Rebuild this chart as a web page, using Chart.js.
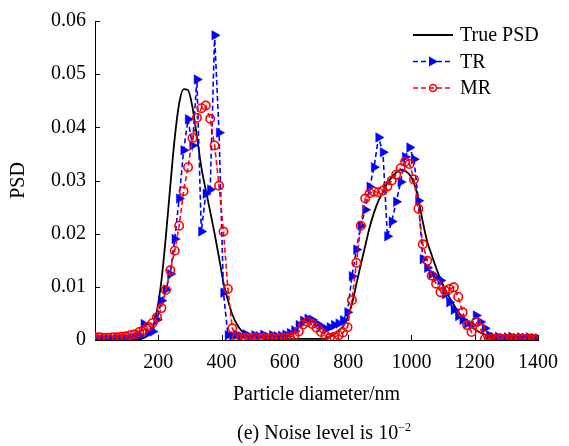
<!DOCTYPE html>
<html>
<head>
<meta charset="utf-8">
<script src="https://cdn.jsdelivr.net/npm/chart.js@4.4.1/dist/chart.umd.min.js"></script>
<style>
    html, body { margin: 0; padding: 0; background: #fff; }
    #wrap { position: relative; width: 569px; height: 446px; }
    #caption {
        position: absolute; left: 79px; width: 490px; top: 421px;
        text-align: center; font: 20px "Liberation Serif", serif; color: #000;
    }
    #caption sup { font-size: 12px; vertical-align: 8px; line-height: 0; }
</style>
</head>
<body>
<div id="wrap">
    <canvas id="psdChart" width="569" height="446"></canvas>
    <div id="caption">(e) Noise level is 10<sup>&minus;2</sup></div>
</div>
<script>
// particle diameters (nm)
const diameters = [
    0, 14, 28, 42, 56, 70, 84, 98, 112, 126,
    140, 154, 168, 182, 196, 210, 224, 238, 252, 266,
    280, 294, 308, 322, 336, 350, 364, 378, 392, 406,
    420, 434, 448, 462, 476, 490, 504, 518, 532, 546,
    560, 574, 588, 602, 616, 630, 644, 658, 672, 686,
    700, 714, 728, 742, 756, 770, 784, 798, 812, 826,
    840, 854, 868, 882, 896, 910, 924, 938, 952, 966,
    980, 994, 1008, 1022, 1036, 1050, 1064, 1078, 1092, 1106,
    1120, 1134, 1148, 1162, 1176, 1190, 1204, 1218, 1232, 1246,
    1260, 1274, 1288, 1302, 1316, 1330, 1344, 1358, 1372, 1386,
    1400
];

const truePSD = [
    0, 0, 0, 0, 0, 0, 0, 0, 0, 0.00005,
    0.0001, 0.0004, 0.0009, 0.0022, 0.0055, 0.0112, 0.0195, 0.029, 0.038, 0.0445,
    0.0472, 0.047, 0.0438, 0.0383, 0.0325, 0.0282, 0.0242, 0.02, 0.0155, 0.0108,
    0.0075, 0.0048, 0.003, 0.0018, 0.0011, 0.0007, 0.0005, 0.0004, 0.0003, 0.0002,
    0.0002, 0.0002, 0.0002, 0.0002, 0.0002, 0.0002, 0.0002, 0.0002, 0.0002, 0.0002,
    0.0002, 0.0002, 0.0003, 0.0006, 0.0011, 0.0018, 0.0026, 0.0042, 0.0068, 0.0105,
    0.0142, 0.0177, 0.0212, 0.024, 0.0262, 0.0278, 0.0295, 0.0306, 0.0315, 0.032,
    0.0318, 0.0311, 0.0295, 0.0265, 0.0222, 0.0185, 0.016, 0.0136, 0.0114, 0.0096,
    0.008, 0.0066, 0.0053, 0.0042, 0.0033, 0.0025, 0.0019, 0.0014, 0.001, 0.0007,
    0.0005, 0.0003, 0.0002, 0.0001, 0.0001, 0, 0, 0, 0, 0,
    0
];

const trPSD = [
    0.0002, 0.0001, 0.0002, 0.0002, 0.0001, 0.0002, 0.0003, 0.0002, 0.0003, 0.0004,
    0.0008, 0.003, 0.0013, 0.0016, 0.0038, 0.0074, 0.0095, 0.0124, 0.019, 0.0266,
    0.0357, 0.0415, 0.0366, 0.049, 0.0204, 0.0275, 0.0283, 0.0573, 0.039, 0.0089,
    0.0009, 0.0008, 0.001, 0.0007, 0.0011, 0.0006, 0.0009, 0.0007, 0.001, 0.0006,
    0.0009, 0.0007, 0.0008, 0.001, 0.0013, 0.0018, 0.0028, 0.0036, 0.004, 0.0038,
    0.0031, 0.0026, 0.0021, 0.0024, 0.0028, 0.0031, 0.0037, 0.0052, 0.012, 0.017,
    0.0215, 0.0245, 0.0288, 0.0325, 0.0381, 0.0353, 0.0195, 0.0223, 0.026, 0.0297,
    0.0344, 0.0362, 0.034, 0.0262, 0.0152, 0.0136, 0.0124, 0.0118, 0.0112, 0.0086,
    0.0071, 0.0057, 0.0045, 0.0038, 0.0031, 0.0028, 0.0046, 0.0034, 0.0022, 0.0009,
    0.0005, 0.0006, 0.0004, 0.0005, 0.0006, 0.0004, 0.0005, 0.0004, 0.0005, 0.0004,
    0.0003
];

const mrPSD = [
    0.0005, 0.0005, 0.0004, 0.0004, 0.0005, 0.0005, 0.0006, 0.0007, 0.0009, 0.0011,
    0.0015, 0.0019, 0.0025, 0.0032, 0.0043, 0.006, 0.0094, 0.0131, 0.0168, 0.0215,
    0.028, 0.0325, 0.038, 0.0418, 0.0436, 0.0441, 0.0416, 0.0366, 0.029, 0.0204,
    0.0096, 0.0022, 0.0005, 0.0004, 0.0004, 0.0003, 0.0004, 0.0003, 0.0004, 0.0003,
    0.0004, 0.0003, 0.0004, 0.0004, 0.0005, 0.0008, 0.0016, 0.0029, 0.0034, 0.003,
    0.0023, 0.0015, 0.0008, 0.0004, 0.0006, 0.0009, 0.0014, 0.0024, 0.0075, 0.0145,
    0.0215, 0.0266, 0.0276, 0.0279, 0.0278, 0.0281, 0.0289, 0.03, 0.0311, 0.0323,
    0.0335, 0.0331, 0.0302, 0.0247, 0.018, 0.0149, 0.0121, 0.0106, 0.009, 0.0093,
    0.0096, 0.0099, 0.0081, 0.0052, 0.0028, 0.0015, 0.0034, 0.0022, 0.0002, 0.0002,
    0.0002, 0.0002, 0.0002, 0.0002, 0.0002, 0.0002, 0.0002, 0.0002, 0.0002, 0.0002,
    0.0002
];

const seriesLabels = ['True PSD', 'TR', 'MR'];
const xTicks = [200, 400, 600, 800, 1000, 1200, 1400];
const yTicks = [0, 0.01, 0.02, 0.03, 0.04, 0.05, 0.06];

const serif = '"Liberation Serif", "Times New Roman", serif';

function toPoints(values)
{
    return diameters.map(function (d, i) { return { x: d, y: values[i] }; });
}

// inward tick marks on left and bottom axes
const innerTicks = {
    id: 'innerTicks',
    afterDraw: function (chart) {
        const ctx = chart.ctx;
        const area = chart.chartArea;
        const xs = chart.scales.x;
        const ys = chart.scales.y;
        ctx.save();
        ctx.strokeStyle = '#000';
        ctx.lineWidth = 1;
        ctx.beginPath();
        xTicks.forEach(function (v) {
            const px = Math.round(xs.getPixelForValue(v)) + 0.5;
            ctx.moveTo(px, area.bottom);
            ctx.lineTo(px, area.bottom - 5);
        });
        yTicks.forEach(function (v) {
            const py = Math.round(ys.getPixelForValue(v)) + 0.5;
            ctx.moveTo(area.left, py);
            ctx.lineTo(area.left + 5, py);
        });
        ctx.stroke();
        ctx.restore();
    }
};

// legend drawn inside the plot, top right
const innerLegend = {
    id: 'innerLegend',
    afterDraw: function (chart) {
        const ctx = chart.ctx;
        ctx.save();
        chart.data.datasets.forEach(function (ds, i) {
            const y = 35 + i * 26.5;
            ctx.strokeStyle = ds.borderColor;
            ctx.lineWidth = ds.borderWidth;
            ctx.setLineDash(ds.borderDash || []);
            ctx.beginPath();
            ctx.moveTo(413, y);
            ctx.lineTo(453, y);
            ctx.stroke();
            ctx.setLineDash([]);
            if (ds.pointStyle === 'triangle') {
                ctx.fillStyle = ds.pointBackgroundColor;
                ctx.beginPath();
                ctx.moveTo(438, y);
                ctx.lineTo(429, y - 5);
                ctx.lineTo(429, y + 5);
                ctx.closePath();
                ctx.fill();
            } else if (ds.pointStyle === 'circle' && ds.pointRadius > 0) {
                ctx.strokeStyle = ds.pointBorderColor;
                ctx.lineWidth = 1.5;
                ctx.beginPath();
                ctx.arc(433, y, 3.5, 0, Math.PI * 2);
                ctx.stroke();
            }
            ctx.fillStyle = '#000';
            ctx.font = '20px ' + serif;
            ctx.textBaseline = 'middle';
            ctx.textAlign = 'left';
            ctx.fillText(seriesLabels[i], 460, y + 1);
        });
        ctx.restore();
    }
};

const psdCtx = document.getElementById('psdChart').getContext('2d');
const psdChart = new Chart(psdCtx, {
    type: 'line',
    data: {
        datasets: [{
            label: seriesLabels[0],
            data: toPoints(truePSD),
            borderColor: '#000000',
            borderWidth: 1.8,
            pointRadius: 0,
            pointStyle: false,
            cubicInterpolationMode: 'monotone',
            order: 3
        },
        {
            label: seriesLabels[1],
            data: toPoints(trPSD),
            borderColor: '#0000ff',
            borderWidth: 1.6,
            borderDash: [5, 3],
            pointStyle: 'triangle',
            rotation: 90,
            pointRadius: 5.5,
            pointBackgroundColor: '#0000ff',
            pointBorderColor: '#0000ff',
            pointBorderWidth: 0.5,
            order: 2
        },
        {
            label: seriesLabels[2],
            data: toPoints(mrPSD),
            borderColor: '#ff0000',
            borderWidth: 1.6,
            borderDash: [5, 3],
            pointStyle: 'circle',
            pointRadius: 4.2,
            pointBackgroundColor: 'rgba(255, 255, 255, 0)',
            pointBorderColor: '#ff0000',
            pointBorderWidth: 1.6,
            order: 1
        }]
    },
    options: {
        responsive: false,
        animation: false,
        layout: {
            padding: { left: 0, right: 21, top: 17, bottom: 39 }
        },
        plugins: {
            legend: { display: false },
            tooltip: { enabled: false }
        },
        scales: {
            x: {
                type: 'linear',
                min: 0,
                max: 1400,
                afterFit: function (scale) { scale.height = 67; },
                afterBuildTicks: function (scale) {
                    scale.ticks = [0].concat(xTicks).map(function (v) { return { value: v }; });
                },
                grid: { display: false, drawTicks: false },
                border: { display: true, color: '#000', width: 1 },
                ticks: {
                    color: '#000',
                    padding: 11,
                    maxRotation: 0,
                    font: { family: serif, size: 20 },
                    callback: function (v) { return v === 0 ? '' : String(v); }
                },
                title: {
                    display: true,
                    text: 'Particle diameter/nm',
                    color: '#000',
                    font: { family: serif, size: 20 },
                    padding: { top: 0, bottom: 0 }
                }
            },
            y: {
                min: 0,
                max: 0.06,
                afterFit: function (scale) { scale.width = 95; },
                afterBuildTicks: function (scale) {
                    scale.ticks = yTicks.map(function (v) { return { value: v }; });
                },
                grid: { display: false, drawTicks: false },
                border: { display: true, color: '#000', width: 1 },
                ticks: {
                    color: '#000',
                    padding: 9,
                    font: { family: serif, size: 20 },
                    callback: function (v) { return v === 0 ? '0' : v.toFixed(2); }
                },
                title: {
                    display: true,
                    text: 'PSD',
                    color: '#000',
                    font: { family: serif, size: 20 },
                    padding: { top: 7, bottom: 0 }
                }
            }
        }
    },
    plugins: [innerTicks, innerLegend]
});
</script>
</body>
</html>
